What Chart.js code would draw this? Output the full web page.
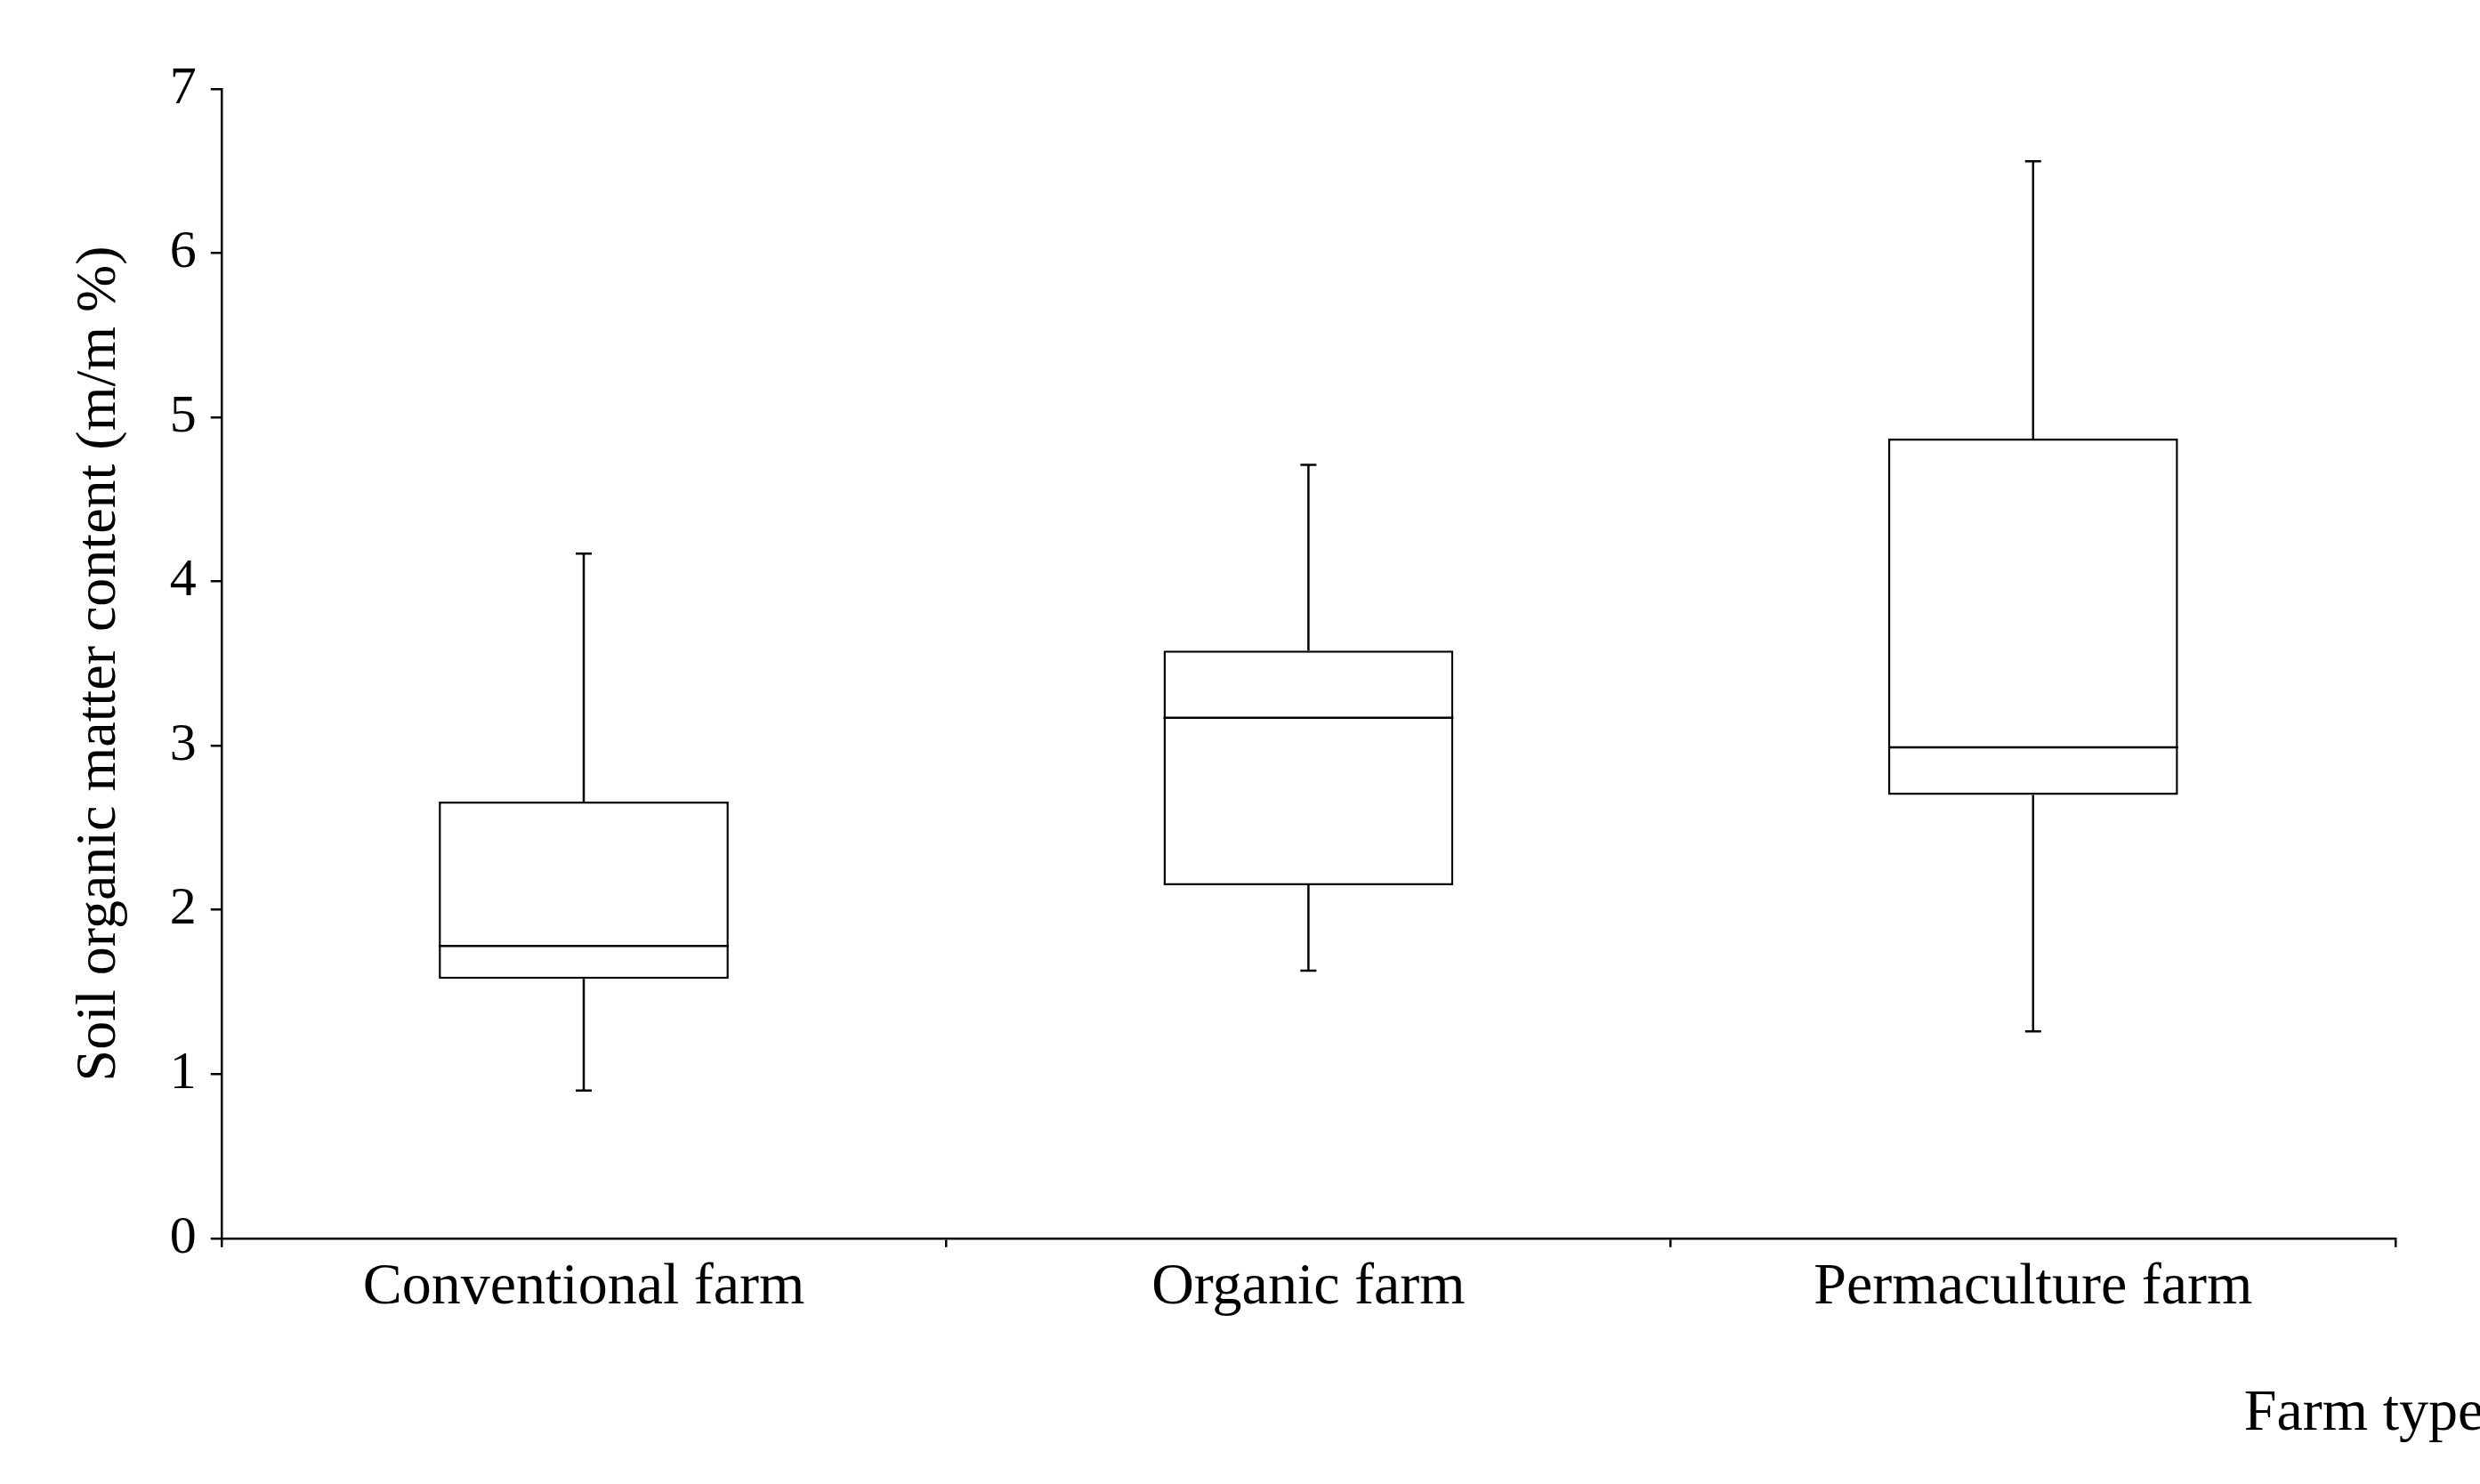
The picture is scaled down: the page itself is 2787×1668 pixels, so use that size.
<!DOCTYPE html>
<html><head><meta charset="utf-8">
<script src="https://cdn.jsdelivr.net/npm/chart.js@4/dist/chart.umd.min.js"></script>
<style>html,body{margin:0;background:#fff}#w{width:2787px;height:1668px}</style>
</head><body><div id="w"><canvas id="c"></canvas></div>
<script>
const categories = ["Conventional farm", "Organic farm", "Permaculture farm"];
const minValues = [0.9, 1.63, 1.26];
const q1Values = [1.58, 2.15, 2.7];
const medianValues = [1.78, 3.17, 2.99];
const q3Values = [2.66, 3.58, 4.87];
const maxValues = [4.17, 4.71, 6.56];
const yTicks = [0, 1, 2, 3, 4, 5, 6, 7];
const xTitle = "Farm types";

const FONT = "'Liberation Serif', 'DejaVu Serif', serif";
const whiskerPlugin = {
  id: 'whiskers',
  afterDatasetsDraw(chart) {
    const ctx = chart.ctx, x = chart.scales.x, y = chart.scales.y;
    const meta = chart.getDatasetMeta(0);
    ctx.save();
    ctx.strokeStyle = '#000'; ctx.lineWidth = 2.5;
    categories.forEach((c, i) => {
      const bar = meta.data[i];
      const cx = x.getPixelForValue(i);
      const half = bar.width / 2;
      const cap = 9;
      ctx.beginPath();
      ctx.moveTo(cx, y.getPixelForValue(q3Values[i])); ctx.lineTo(cx, y.getPixelForValue(maxValues[i]));
      ctx.moveTo(cx - cap, y.getPixelForValue(maxValues[i])); ctx.lineTo(cx + cap, y.getPixelForValue(maxValues[i]));
      ctx.moveTo(cx, y.getPixelForValue(q1Values[i])); ctx.lineTo(cx, y.getPixelForValue(minValues[i]));
      ctx.moveTo(cx - cap, y.getPixelForValue(minValues[i])); ctx.lineTo(cx + cap, y.getPixelForValue(minValues[i]));
      ctx.moveTo(cx - half, y.getPixelForValue(medianValues[i])); ctx.lineTo(cx + half, y.getPixelForValue(medianValues[i]));
      ctx.stroke();
    });
    const a = chart.chartArea;
    ctx.fillStyle = '#000';
    ctx.font = "66px " + FONT;
    ctx.textAlign = 'right'; ctx.textBaseline = 'alphabetic';
    ctx.fillText(xTitle, a.right + 125, a.bottom + 215);
    ctx.restore();
  }
};

new Chart(document.getElementById('c'), {
  type: 'bar',
  data: {
    labels: categories,
    datasets: [{
      data: categories.map((c, i) => [q1Values[i], q3Values[i]]),
      backgroundColor: '#fff', borderColor: '#000', borderWidth: 2.5, borderSkipped: false,
      categoryPercentage: 0.4, barPercentage: 1.0
    }]
  },
  options: {
    responsive: true, maintainAspectRatio: false, animation: false,
    layout: { padding: { left: 70, right: 95, top: 100, bottom: 175 } },
    plugins: { legend: { display: false }, tooltip: { enabled: false } },
    scales: {
      x: {
        grid: { offset: true, drawOnChartArea: false, color: '#000', tickLength: 10, lineWidth: 2.5 },
        border: { color: '#000', width: 2.5 },
        ticks: { color: '#000', font: { family: FONT, size: 66 }, padding: 6 }
      },
      y: {
        min: 0, max: 7,
        afterBuildTicks: s => { s.ticks = yTicks.map(v => ({ value: v })); },
        grid: { drawOnChartArea: false, color: '#000', tickLength: 12, lineWidth: 2.5 },
        border: { color: '#000', width: 2.5 },
        ticks: { color: '#000', font: { family: FONT, size: 60 }, padding: 16 },
        title: { display: true, text: 'Soil organic matter content (m/m %)', color: '#000', font: { family: FONT, size: 64 }, padding: { bottom: 24 } }
      }
    }
  },
  plugins: [whiskerPlugin]
});
</script></body></html>
